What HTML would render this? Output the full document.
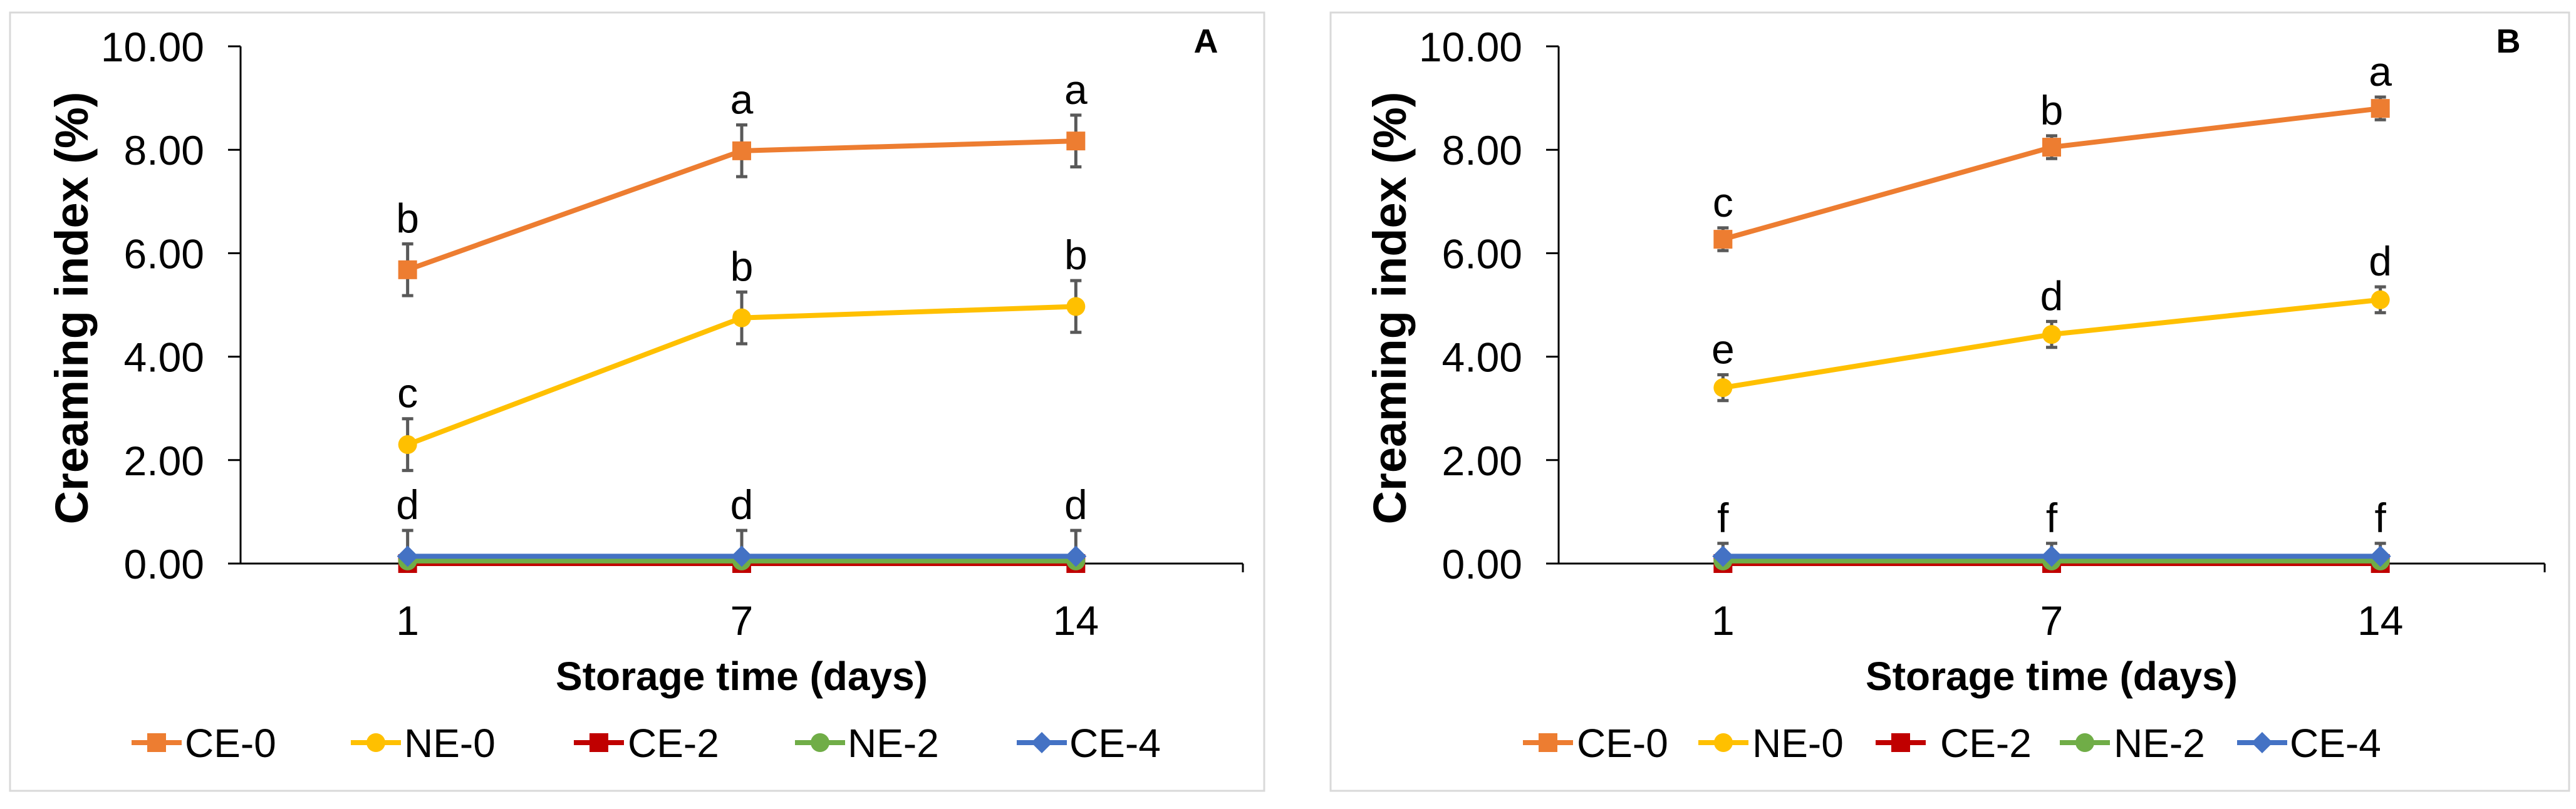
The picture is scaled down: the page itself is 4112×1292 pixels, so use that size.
<!DOCTYPE html>
<html><head><meta charset="utf-8">
<style>
html,body{margin:0;padding:0;background:#fff;}
svg{display:block;font-family:"Liberation Sans",Arial,sans-serif;}
</style></head>
<body>
<svg id="chart" width="4112" height="1292" viewBox="0 0 4112 1292" xmlns="http://www.w3.org/2000/svg"></svg>
<script>
const categories = ["1","7","14"];
const yTicks = [0,2,4,6,8,10];
const seriesNames = ["CE-0","NE-0","CE-2","NE-2","CE-4"];
// Panel A values
const aCE0 = [5.68, 7.98, 8.17];
const aNE0 = [2.30, 4.75, 4.97];
const aCE2 = [0, 0, 0];
const aNE2 = [0.05, 0.05, 0.05];
const aCE4 = [0.14, 0.14, 0.14];
const aErrCE0 = [0.5, 0.5, 0.5];
const aErrNE0 = [0.5, 0.5, 0.5];
const aErrCE4 = [0.5, 0.5, 0.5];
const aLetters0 = ["b","a","a"];
const aLetters1 = ["c","b","b"];
const aLetters4 = ["d","d","d"];
// Panel B values
const bCE0 = [6.27, 8.05, 8.80];
const bNE0 = [3.40, 4.43, 5.10];
const bCE2 = [0, 0, 0];
const bNE2 = [0.05, 0.05, 0.05];
const bCE4 = [0.14, 0.14, 0.14];
const bErrCE0 = [0.22, 0.22, 0.22];
const bErrNE0 = [0.25, 0.25, 0.25];
const bErrCE4 = [0.25, 0.25, 0.25];
const bLetters0 = ["c","b","a"];
const bLetters1 = ["e","d","d"];
const bLetters4 = ["f","f","f"];

const NS = "http://www.w3.org/2000/svg";
const svg = document.getElementById("chart");
function mk(tag, attrs, parent, text){
  const e = document.createElementNS(NS, tag);
  for (const k in attrs) e.setAttribute(k, attrs[k]);
  if (text !== undefined) e.textContent = text;
  (parent||svg).appendChild(e);
  return e;
}
const colors = ["#ED7D31","#FFC000","#C00000","#70AD47","#4472C4"];
const shapes = ["square","circle","square","circle","diamond"];

function marker(g, shape, cx, cy, color, s){
  let m;
  if (shape==="square") m = mk("rect",{x:cx-s/2,y:cy-s/2,width:s,height:s,fill:color},g);
  else if (shape==="circle") m = mk("circle",{cx:cx,cy:cy,r:s/2,fill:color},g);
  else m = mk("polygon",{points:`${cx},${cy-s/2-2} ${cx+s/2+2},${cy} ${cx},${cy+s/2+2} ${cx-s/2-2},${cy}`,fill:color},g);
  return m;
}

function panel(p){
  const g = mk("g",{});
  
  
  const border = mk("rect",{x:p.bx,y:20,width:p.bw,height:1243,fill:"none",stroke:"#d9d9d9","stroke-width":3},g);
  
  
  const y0=900, y10=74;
  const yS = v => y0 - (v/10)*(y0-y10);
  const band = (p.xr - p.xl)/categories.length;
  const xS = i => p.xl + band*(i+0.5);
  const ya = mk("line",{x1:p.xl,y1:y10,x2:p.xl,y2:y0,stroke:"#000","stroke-width":3},g);
  
  
  yTicks.forEach(t=>{
    mk("line",{x1:p.xl-20,y1:yS(t),x2:p.xl,y2:yS(t),stroke:"#000","stroke-width":3},g);
    const tl = mk("text",{x:p.xl-58,y:yS(t)+24,"text-anchor":"end","font-size":66,fill:"#000"},g,t.toFixed(2));
    
    
  });
  const xa = mk("line",{x1:p.xl-20,y1:y0,x2:p.xr,y2:y0,stroke:"#000","stroke-width":3},g);
  
  
  mk("line",{x1:p.xr,y1:y0,x2:p.xr,y2:y0+14,stroke:"#000","stroke-width":3},g);
  categories.forEach((c,i)=>{
    const tl = mk("text",{x:xS(i),y:1014,"text-anchor":"middle","font-size":66,fill:"#000"},g,c);
    
    
  });
  const xt = mk("text",{x:(p.xl+p.xr)/2,y:1102,"text-anchor":"middle","font-size":64,"font-weight":"bold"},g,"Storage time (days)");
  
  
  const yt = mk("text",{x:0,y:0,"text-anchor":"middle","font-size":74,"font-weight":"bold",transform:`translate(${p.ytx},492) rotate(-90)`},g,"Creaming index (%)");
  
  
  const pl = mk("text",{x:p.lx,y:84,"text-anchor":"middle","font-size":54,"font-weight":"bold"},g,p.label);
  
  

  const clipId = "clip"+p.label;
  const cp = mk("clipPath",{id:clipId},g);
  mk("rect",{x:p.xl,y:0,width:p.xr-p.xl,height:y0},cp);

  const order = [2,3,0,1,4];
  const errG = mk("g",{"clip-path":`url(#${clipId})`},g);
  [[0,p.e0],[1,p.e1],[4,p.e4]].forEach(([si,err])=>{
    p.series[si].forEach((v,i)=>{
      const x=xS(i);
      const e = mk("line",{x1:x,y1:yS(v+err[i]),x2:x,y2:yS(v-err[i]),stroke:"#595959","stroke-width":5},errG);
      
      
      mk("line",{x1:x-9,y1:yS(v+err[i]),x2:x+9,y2:yS(v+err[i]),stroke:"#595959","stroke-width":5},errG);
      mk("line",{x1:x-9,y1:yS(v-err[i]),x2:x+9,y2:yS(v-err[i]),stroke:"#595959","stroke-width":5},errG);
    });
  });
  order.forEach(si=>{
    const vals = p.series[si];
    const pts = vals.map((v,i)=>`${xS(i)},${yS(v)}`).join(" ");
    const ln = mk("polyline",{points:pts,fill:"none",stroke:colors[si],"stroke-width":8,"stroke-linejoin":"round"},g);
    
    
    vals.forEach((v,i)=>{
      const m = marker(g, shapes[si], xS(i), yS(v), colors[si], 30);
      
      
    });
  });
  [[0,p.e0,p.l0],[1,p.e1,p.l1],[4,p.e4,p.l4]].forEach(([si,err,lets])=>{
    p.series[si].forEach((v,i)=>{
      const t = mk("text",{x:xS(i),y:yS(v+err[i])-18,"text-anchor":"middle","font-size":66},g,lets[i]);
      
      
    });
  });
  const lg = mk("g",{},g);
  
  
  seriesNames.forEach((n,si)=>{
    const eg = mk("g",{},lg);
    
    
    const cx = p.leg[si];
    mk("line",{x1:cx-40,y1:1186,x2:cx+40,y2:1186,stroke:colors[si],"stroke-width":8},eg);
    marker(eg, shapes[si], cx, 1186, colors[si], 30);
    mk("text",{x:p.legT[si],y:1209,"font-size":64},eg,n);
  });
}

panel({label:"A",bx:16,bw:2002,xl:384,xr:1984,ytx:140,lx:1925,
  series:[aCE0,aNE0,aCE2,aNE2,aCE4],e0:aErrCE0,e1:aErrNE0,e4:aErrCE4,
  l0:aLetters0,l1:aLetters1,l4:aLetters4,
  leg:[250,600,956,1309,1663],legT:[295,645,1002,1353,1707]});
panel({label:"B",bx:2124,bw:1977,xl:2488,xr:4062,ytx:2244,lx:4004,
  series:[bCE0,bNE0,bCE2,bNE2,bCE4],e0:bErrCE0,e1:bErrNE0,e4:bErrCE4,
  l0:bLetters0,l1:bLetters1,l4:bLetters4,
  leg:[2471,2751,3034,3328,3611],legT:[2517,2797,3097,3374,3655]});
</script>
</body></html>
